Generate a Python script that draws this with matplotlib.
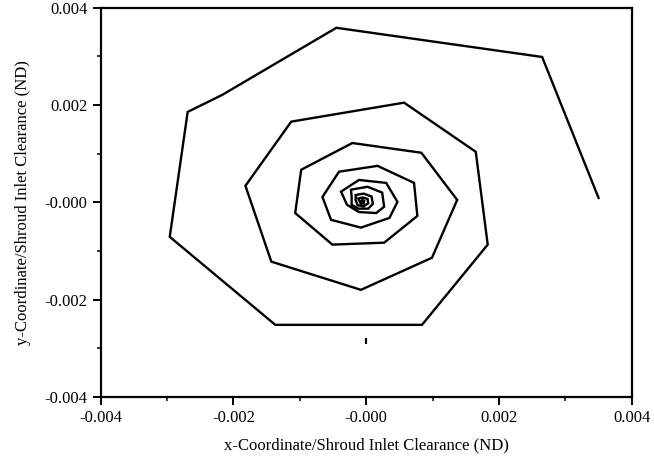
import matplotlib
matplotlib.use('Agg')
import matplotlib.pyplot as plt
from matplotlib.ticker import MultipleLocator

# orbit vertices, units of 1e-3
orbit_x = [3.50, 2.65, -0.45, -2.17, -2.69, -2.96, -1.37, 0.84, 1.83, 1.65,
           0.57, -1.13, -1.82, -1.43, -0.08, 0.99, 1.37, 0.83, -0.21, -0.98,
           -1.07, -0.51, 0.27, 0.77, 0.72, 0.17, -0.41, -0.66, -0.53, -0.08,
           0.35, 0.47, 0.30, -0.11, -0.38, -0.29, -0.11, 0.15, 0.27, 0.24,
           0.02, -0.23, -0.22, -0.22, -0.12, 0.03, 0.10, 0.08, -0.04, -0.16,
           -0.16, -0.13, -0.04, 0.03, 0.02, -0.05, -0.12, -0.10, -0.08, -0.04,
           -0.03, -0.06, -0.08, -0.06]
orbit_y = [0.09, 2.99, 3.59, 2.21, 1.86, -0.71, -2.52, -2.52, -0.87, 1.04,
           2.05, 1.66, 0.34, -1.22, -1.80, -1.14, 0.05, 1.02, 1.22, 0.67,
           -0.22, -0.87, -0.83, -0.28, 0.40, 0.75, 0.63, 0.11, -0.36, -0.52,
           -0.32, 0.01, 0.40, 0.46, 0.22, -0.05, -0.20, -0.22, -0.09, 0.20,
           0.32, 0.26, 0.12, -0.05, -0.13, -0.13, -0.03, 0.12, 0.18, 0.15,
           0.05, -0.06, -0.08, -0.02, 0.07, 0.10, 0.08, 0.02, -0.03, -0.02,
           0.03, 0.05, 0.01, 0.00]

mark_x = [0.0]
mark_y = [-2.85]

ticks = [-0.004, -0.002, 0.0, 0.002, 0.004]
xtick_labels = ['-0.004', '-0.002', '-0.000', '0.002', '0.004']
ytick_labels = ['-0.004', '-0.002', '-0.000', '0.002', '0.004']

plt.rcParams['font.family'] = ['Liberation Serif', 'DejaVu Serif']

fig = plt.figure(figsize=(6.54, 4.63), dpi=100)
ax = fig.add_axes([0.154, 0.143, 0.812, 0.840])

ax.plot([v * 1e-3 for v in orbit_x], [v * 1e-3 for v in orbit_y],
        color='black', lw=1.7, solid_joinstyle='miter')
ax.plot([v * 1e-3 for v in mark_x], [v * 1e-3 for v in mark_y],
        ls='none', marker='|', ms=5, mew=1.5, color='black')

ax.set_xlim(-0.004, 0.004)
ax.set_ylim(-0.004, 0.004)
ax.set_xticks(ticks)
ax.set_xticklabels(xtick_labels)
ax.set_yticks(ticks)
ax.set_yticklabels(ytick_labels)
ax.xaxis.set_minor_locator(MultipleLocator(0.001))
ax.yaxis.set_minor_locator(MultipleLocator(0.001))
ax.tick_params(which='major', direction='out', length=6, width=1.4, labelsize=12)
ax.tick_params(which='minor', direction='out', length=3, width=1.1)
ax.tick_params(top=False, right=False)
for s in ax.spines.values():
    s.set_linewidth(1.6)

ax.set_xlabel('x-Coordinate/Shroud Inlet Clearance (ND)', fontsize=12, labelpad=8)
ax.set_ylabel('y-Coordinate/Shroud Inlet Clearance (ND)', fontsize=12, labelpad=10)

fig.savefig('out.png', dpi=100)
